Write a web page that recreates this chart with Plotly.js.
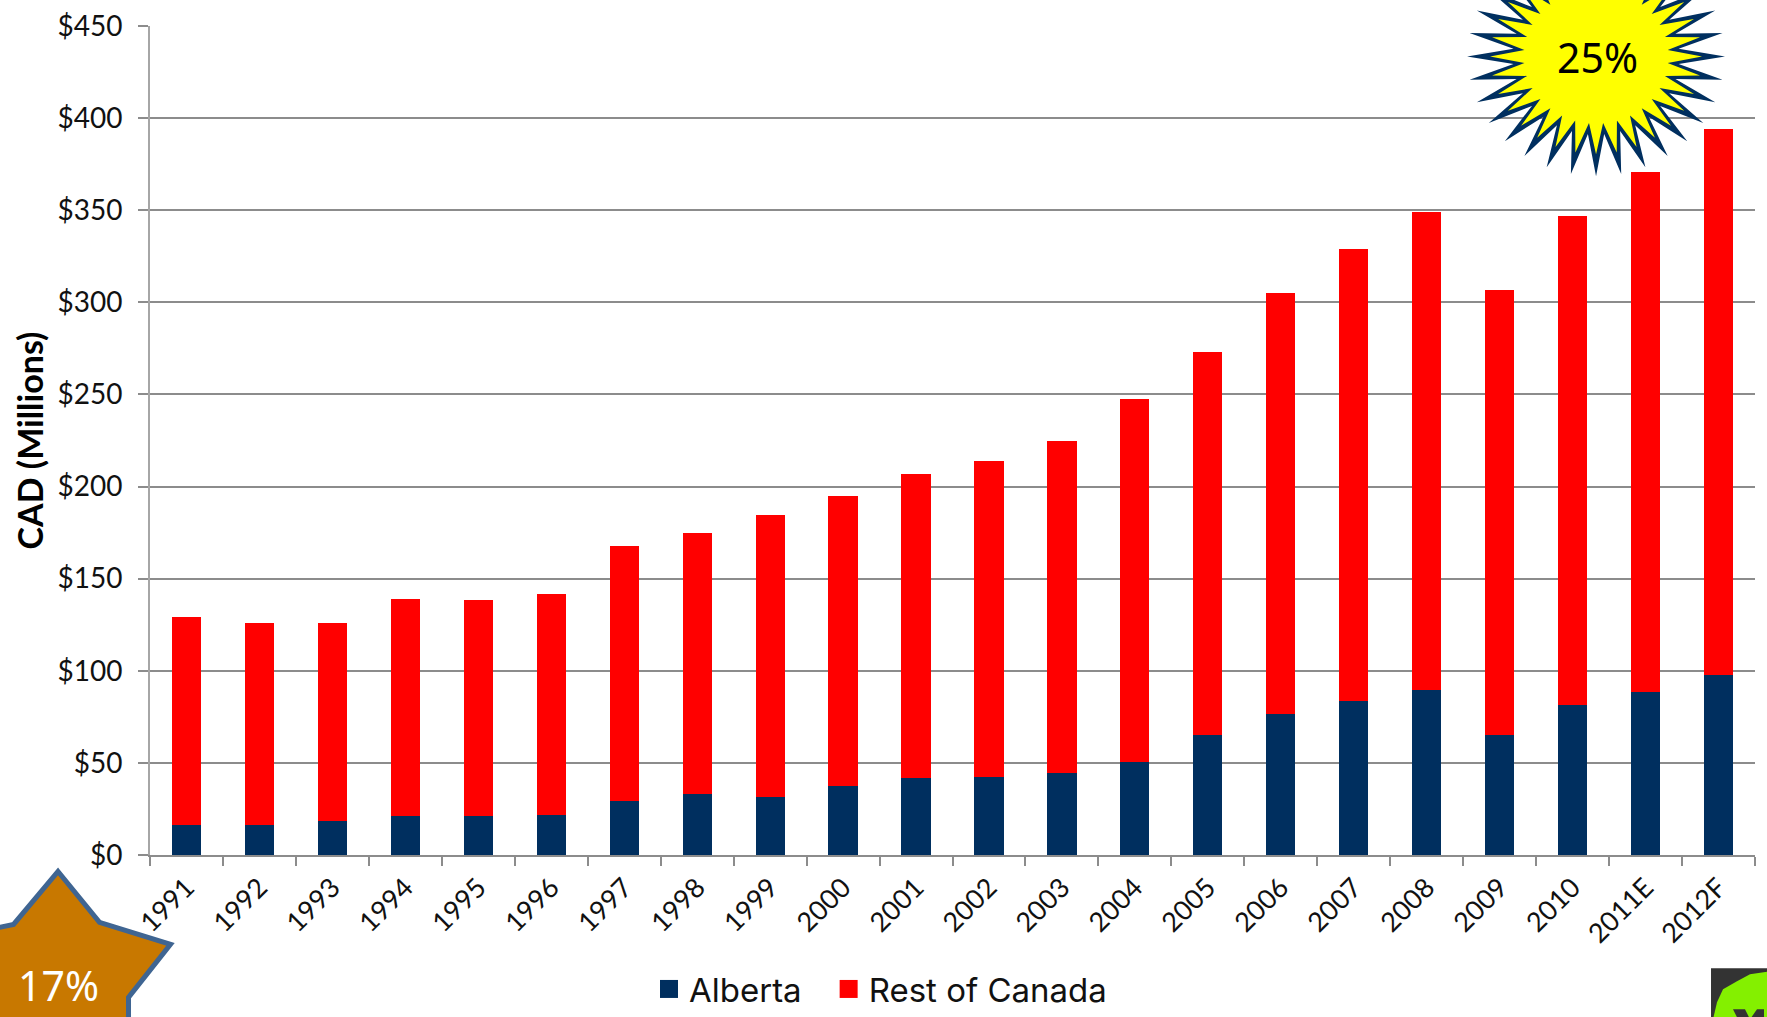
<!DOCTYPE html>
<html>
<head>
<meta charset="utf-8">
<script src="https://cdn.plot.ly/plotly-3.0.1.min.js"></script>
<style>html,body{margin:0;padding:0;background:#fff;overflow:hidden}#chart{width:1767px;height:1017px}</style>
</head>
<body>
<div id="chart"></div>
<script>
// CAD millions per year, split between Alberta and the rest of Canada
const years = ['1991','1992','1993','1994','1995','1996','1997','1998','1999','2000','2001','2002','2003','2004','2005','2006','2007','2008','2009','2010','2011E','2012F'];
const alberta = [16.3,16.3,18.4,21.1,21.1,21.9,29.4,32.9,31.4,37.2,41.9,42.3,44.4,50.6,65,76.8,83.8,89.6,65.4,81.5,88.6,97.8];
const restOfCanada = [112.9,109.4,107.5,117.8,117.3,119.9,138.4,141.8,153.1,157.6,164.8,171.6,180.2,197.1,208.1,228.5,245,259.6,241.2,265.3,282.2,296.1];
const yTicks = [0,50,100,150,200,250,300,350,400,450];
const yTickLabels = yTicks.map(v => '$' + v);

const W = 1767, H = 1017;
const plot = {l: 149.5, r: 1755, t: 25.5, b: 855.5};
const px = x => (x - plot.l) / (plot.r - plot.l);
const py = y => (plot.b - y) / (plot.b - plot.t);
const polyPath = pts => 'M' + pts.map(p => px(p[0]) + ',' + py(p[1])).join('L') + 'Z';

// Burst outline: alternating tip and notch radii around an ellipse
function burst(cx, cy, n, tipX, tipY, notchX, notchY) {
  const pts = [];
  for (let i = 0; i < n * 2; i++) {
    const a = Math.PI * i / n;
    const rx = i % 2 ? notchX : tipX;
    const ry = i % 2 ? notchY : tipY;
    pts.push([cx + rx * Math.cos(a), cy + ry * Math.sin(a)]);
  }
  return polyPath(pts);
}

const paperShape = (path, fill, line, width) => ({
  type: 'path', xref: 'paper', yref: 'paper', path: path, fillcolor: fill,
  line: {color: line || fill, width: width === undefined ? 0 : width}, layer: 'above'
});

const shapes = [
  paperShape(burst(1596, 56, 32, 129, 120, 83, 78), '#002F5F'),
  paperShape(burst(1596, 56, 32, 106, 98, 72, 67), '#FFFF00'),
  paperShape(polyPath([[57.5,872],[99,923],[170,945],[128,998],[128,1040],[-20,1040],[-20,932],[13,925]]), '#C87800', '#3F6592', 5),
  paperShape(polyPath([[1711,969],[1770,969],[1770,1020],[1711,1020]]), '#333333'),
  paperShape(polyPath([[1713,1020],[1717,1003],[1723,990],[1737,982],[1750,975],[1770,972],[1770,1020]]), '#84F000'),
  paperShape(polyPath([[1733,1010],[1745,1010],[1750,1020],[1738,1020]]), '#333333'),
  paperShape(polyPath([[1750,1020],[1757,1010],[1764,1010],[1764,1020]]), '#333333')
];

const calloutFont = (color) => ({family: '"Noto Sans", sans-serif', size: 41, color: color});
const annotations = [
  {xref: 'paper', yref: 'paper', x: px(1597), y: py(57), text: '25%', showarrow: false, xanchor: 'center', yanchor: 'middle', font: calloutFont('#000000')},
  {xref: 'paper', yref: 'paper', x: px(58), y: py(986), text: '17%', showarrow: false, xanchor: 'center', yanchor: 'middle', font: calloutFont('#FFFFFF')}
];

const traces = [
  {type: 'bar', name: 'Alberta', x: years, y: alberta, marker: {color: '#002F5F'}},
  {type: 'bar', name: 'Rest of Canada', x: years, y: restOfCanada, marker: {color: '#FF0000'}}
];

const layout = {
  width: W, height: H,
  margin: {l: plot.l, r: W - plot.r, t: plot.t, b: H - plot.b, pad: 0},
  paper_bgcolor: '#FFFFFF', plot_bgcolor: '#FFFFFF',
  barmode: 'stack', bargap: 0.6,
  showlegend: true,
  legend: {
    orientation: 'h', xref: 'container', yref: 'container',
    x: 649 / W, xanchor: 'left', y: (H - 961) / H, yanchor: 'top',
    traceorder: 'normal',
    font: {family: 'Inter, sans-serif', size: 33, color: '#111111'}
  },
  xaxis: {
    type: 'category', categoryorder: 'array', categoryarray: years,
    tickson: 'boundaries', ticks: 'outside', ticklen: 9, tickwidth: 2, tickcolor: '#8C8C8C',
    showline: true, linecolor: '#8C8C8C', linewidth: 2, showgrid: false, zeroline: false,
    ticklabelstandoff: 4,
    tickangle: -45, tickfont: {family: 'Lato, sans-serif', size: 27, color: '#111111'}
  },
  yaxis: {
    range: [0, 450], tickvals: yTicks, ticktext: yTickLabels,
    ticks: 'outside', ticklen: 10, tickwidth: 2, tickcolor: '#8C8C8C',
    showline: true, linecolor: '#A6A6A6', linewidth: 2,
    showgrid: true, gridcolor: '#8C8C8C', gridwidth: 2, zeroline: false,
    ticklabelstandoff: 10,
    tickfont: {family: 'Lato, sans-serif', size: 28, color: '#111111'},
    title: {text: 'CAD (Millions)', font: {family: 'Lato, sans-serif', size: 34, weight: 'bold', color: '#000000'}}
  },
  shapes: shapes,
  annotations: annotations
};

Plotly.newPlot('chart', traces, layout, {displayModeBar: false, responsive: false}).then(() => {
  const gd = document.getElementById('chart');
  // Larger square legend keys
  gd.querySelectorAll('.legend .legendpoints path').forEach(p => p.setAttribute('d', 'M9,9H-9V-9H9Z'));
  // Wider gap between the two legend entries
  const box = gd.querySelector('.legend .scrollbox');
  if (box) box.removeAttribute('clip-path');
  const entries = gd.querySelectorAll('.legend .traces');
  if (entries[1]) {
    const m = /translate\(([-\d.]+)[ ,]+([-\d.]+)\)/.exec(entries[1].getAttribute('transform') || '');
    if (m) entries[1].setAttribute('transform', 'translate(' + (parseFloat(m[1]) + 22) + ',' + m[2] + ')');
  }
  // Axis title sits clear of the tick labels
  const yTitle = gd.querySelector('.ytitle');
  if (yTitle) yTitle.setAttribute('transform', 'translate(-5,0) ' + (yTitle.getAttribute('transform') || ''));
});
</script>
</body>
</html>
